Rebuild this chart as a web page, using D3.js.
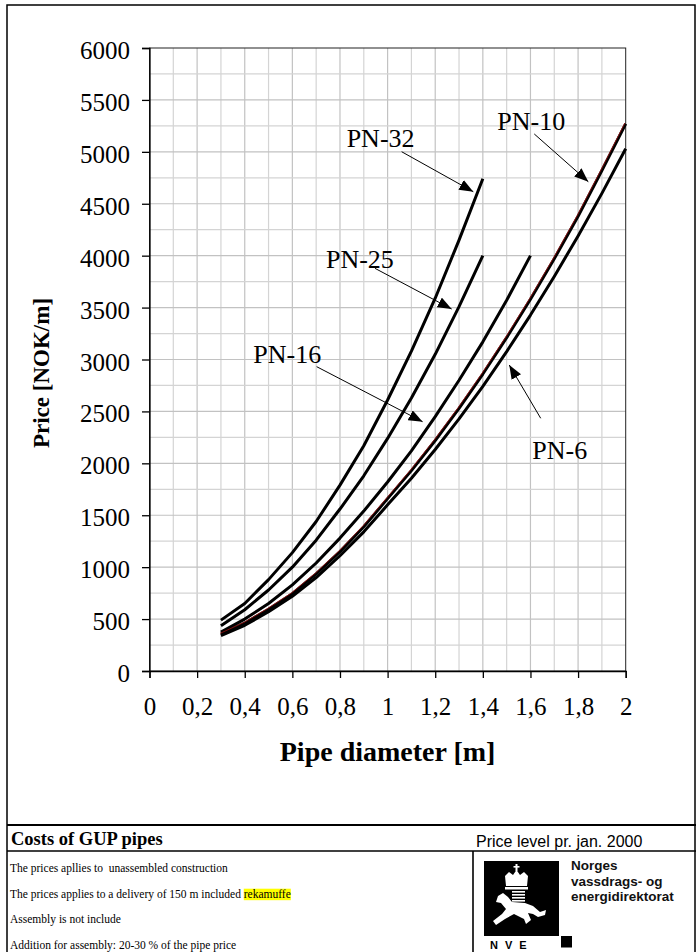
<!DOCTYPE html>
<html>
<head>
<meta charset="utf-8">
<script src="https://cdnjs.cloudflare.com/ajax/libs/d3/7.8.5/d3.min.js"></script>
<style>
  body { margin: 0; background: #fff; }
  svg { display: block; }
</style>
</head>
<body>
<div id="chart"></div>
<script>
// Pipe diameters [m] and prices [NOK/m]
const diameters = [0.3, 0.4, 0.5, 0.6, 0.7, 0.8, 0.9, 1.0, 1.1, 1.2, 1.3, 1.4, 1.5, 1.6, 1.7, 1.8, 1.9, 2.0];
const pn32 = [490, 650, 880, 1140, 1440, 1790, 2170, 2610, 3080, 3590, 4150, 4740];
const pn25 = [435, 590, 780, 1000, 1260, 1560, 1880, 2240, 2630, 3050, 3510, 4000];
const pn16 = [375, 500, 650, 830, 1040, 1280, 1540, 1820, 2120, 2450, 2800, 3170, 3570, 4000];
const pn10 = [355, 460, 595, 745, 935, 1150, 1390, 1660, 1930, 2220, 2530, 2860, 3210, 3580, 3970, 4380, 4820, 5270];
const pn6  = [340, 440, 570, 720, 900, 1110, 1340, 1600, 1856, 2133, 2428, 2742, 3076, 3428, 3800, 4190, 4600, 5030];

const xTicks = [0, 0.2, 0.4, 0.6, 0.8, 1, 1.2, 1.4, 1.6, 1.8, 2];
const yTicks = [0, 500, 1000, 1500, 2000, 2500, 3000, 3500, 4000, 4500, 5000, 5500, 6000];

const footLines = [
  "The prices apllies to  unassembled construction",
  "The prices applies to a delivery of 150 m included ",
  "Assembly is not include",
  "Addition for assembly: 20-30 % of the pipe price"
];

const series = [
  { name: "PN-32", values: pn32 },
  { name: "PN-25", values: pn25 },
  { name: "PN-16", values: pn16 },
  { name: "PN-10", values: pn10 },
  { name: "PN-6",  values: pn6 }
];

const W = 696, H = 952;
const serif = "'Liberation Serif', 'Times New Roman', serif";
const sans = "'Liberation Sans', Arial, sans-serif";

const svg = d3.select("#chart").append("svg")
    .attr("width", W)
    .attr("height", H);

svg.append("defs").append("marker")
    .attr("id", "head")
    .attr("markerUnits", "userSpaceOnUse")
    .attr("viewBox", "0 0 14 11")
    .attr("refX", 14).attr("refY", 5.5)
    .attr("markerWidth", 14).attr("markerHeight", 11)
    .attr("orient", "auto")
  .append("path")
    .attr("d", "M0,0L14,5.5L0,11Z")
    .attr("fill", "#000");

// outer frame
svg.append("rect")
    .attr("x", 7).attr("y", 5)
    .attr("width", 688).attr("height", 960)
    .attr("fill", "none").attr("stroke", "#000").attr("stroke-width", 1.5);

// scales
const x = d3.scaleLinear().domain([0, 2]).range([149.5, 625.7]);
const y = d3.scaleLinear().domain([0, 6000]).range([671, 48]);

const plot = svg.append("g");

// grid, every 0.1 m and every 250 NOK/m
plot.selectAll(".vgrid")
    .data(d3.range(1, 20).map(i => i / 10))
    .enter().append("line")
    .attr("x1", d => x(d)).attr("x2", d => x(d))
    .attr("y1", y(0)).attr("y2", y(6000))
    .attr("stroke", d => Math.round(d * 10) % 2 === 0 ? "#c2c2c2" : "#d4d4d4")
    .attr("stroke-width", 1.2);

plot.selectAll(".hgrid")
    .data(d3.range(1, 24).map(i => i * 250))
    .enter().append("line")
    .attr("x1", x(0)).attr("x2", x(2))
    .attr("y1", d => y(d)).attr("y2", d => y(d))
    .attr("stroke", d => d % 500 === 0 ? "#c2c2c2" : "#d4d4d4")
    .attr("stroke-width", 1.2);

// plot border
plot.append("rect")
    .attr("x", x(0)).attr("y", y(6000))
    .attr("width", x(2) - x(0)).attr("height", y(0) - y(6000))
    .attr("fill", "none").attr("stroke", "#222").attr("stroke-width", 1);

// axes
const yAxis = plot.append("g")
    .attr("transform", `translate(${x(0)},0)`)
    .call(d3.axisLeft(y).tickValues(yTicks).tickSize(7.5).tickPadding(12).tickFormat(d => d));
yAxis.selectAll("text")
    .attr("font-family", serif).attr("font-size", 25).attr("fill", "#000")
    .attr("dy", "0.42em");

const xAxis = plot.append("g")
    .attr("transform", `translate(0,${y(0)})`)
    .call(d3.axisBottom(x).tickValues(xTicks).tickSize(7).tickPadding(10)
      .tickFormat(d => String(d).replace(".", ",")));
xAxis.selectAll("text")
    .attr("font-family", serif).attr("font-size", 25).attr("fill", "#000")
    .attr("dy", "1.06em");

[yAxis, xAxis].forEach(a => {
  a.selectAll(".domain").attr("stroke", "#000").attr("stroke-width", 1.3);
  a.selectAll(".tick line").attr("stroke", "#000").attr("stroke-width", 1.3);
});

// axis titles
svg.append("text")
    .attr("x", (x(0) + x(2)) / 2).attr("y", 761)
    .attr("text-anchor", "middle")
    .attr("font-family", serif).attr("font-weight", "bold").attr("font-size", 28)
    .text("Pipe diameter [m]");

svg.append("text")
    .attr("transform", "translate(49,373) rotate(-90)")
    .attr("text-anchor", "middle")
    .attr("font-family", serif).attr("font-weight", "bold").attr("font-size", 23)
    .text("Price [NOK/m]");

// curves
const line = d3.line()
    .x((d, i) => x(diameters[i]))
    .y(d => y(d));

plot.selectAll(".curve")
    .data(series)
    .enter().append("path")
    .attr("d", d => line(d.values))
    .attr("fill", "none")
    .attr("stroke", "#000")
    .attr("stroke-width", 3)
    .attr("stroke-linejoin", "round");

// thin dark red trace along PN-10
plot.append("path")
    .attr("d", line(pn10))
    .attr("transform", "translate(-0.8,-0.8)")
    .attr("fill", "none")
    .attr("stroke", "#9a1010")
    .attr("stroke-width", 0.8);

// labels with arrows (positions in data units)
const notes = [
  { text: "PN-32", tx: 0.828, ty: 5050, ax: 1.059, ay: 5001, hx: 1.360, hy: 4616 },
  { text: "PN-10", tx: 1.461, ty: 5210, ax: 1.616, ay: 5172, hx: 1.843, hy: 4712 },
  { text: "PN-25", tx: 0.741, ty: 3884, ax: 0.947, ay: 3878, hx: 1.269, hy: 3486 },
  { text: "PN-16", tx: 0.436, ty: 2966, ax: 0.702, ay: 2931, hx: 1.147, hy: 2401 },
  { text: "PN-6",  tx: 1.608, ty: 2039, ax: 1.643, ay: 2434, hx: 1.511, hy: 2947 }
];

const ann = plot.selectAll(".note").data(notes).enter().append("g");
ann.append("line")
    .attr("x1", d => x(d.ax)).attr("y1", d => y(d.ay))
    .attr("x2", d => x(d.hx)).attr("y2", d => y(d.hy))
    .attr("stroke", "#000").attr("stroke-width", 1)
    .attr("marker-end", "url(#head)");
ann.append("text")
    .attr("x", d => x(d.tx)).attr("y", d => y(d.ty))
    .attr("font-family", serif).attr("font-size", 26)
    .text(d => d.text);

// footer
svg.append("line").attr("x1", 7).attr("x2", W).attr("y1", 825).attr("y2", 825)
    .attr("stroke", "#000").attr("stroke-width", 2);
svg.append("line").attr("x1", 7).attr("x2", W).attr("y1", 851).attr("y2", 851)
    .attr("stroke", "#000").attr("stroke-width", 1.6);
svg.append("line").attr("x1", 473).attr("x2", 473).attr("y1", 851).attr("y2", H)
    .attr("stroke", "#000").attr("stroke-width", 1.6);

svg.append("text")
    .attr("x", 11).attr("y", 845)
    .attr("font-family", serif).attr("font-weight", "bold").attr("font-size", 18.5)
    .text("Costs of GUP pipes");

svg.append("text")
    .attr("x", 476).attr("y", 846.5)
    .attr("font-family", sans).attr("font-size", 16)
    .text("Price level pr. jan. 2000");

const footY = [871.7, 897.7, 922.7, 949.3];
footLines.forEach((t, i) => {
  const txt = svg.append("text")
      .attr("x", 10).attr("y", footY[i])
      .attr("font-family", serif).attr("font-size", 11.5)
      .attr("xml:space", "preserve")
      .style("white-space", "pre")
      .text(t);
  if (i === 1) {
    const w = txt.node().getComputedTextLength();
    const hl = svg.insert("rect", () => txt.node())
        .attr("x", 10 + w).attr("y", footY[i] - 9)
        .attr("height", 11.5).attr("fill", "#ffff00");
    const sp = txt.append("tspan").text("rekamuffe");
    hl.attr("width", sp.node().getComputedTextLength());
  }
});

// NVE logo (simplified)
const logo = svg.append("g");
logo.append("rect").attr("x", 484).attr("y", 861).attr("width", 75).attr("height", 75).attr("fill", "#000");
logo.append("rect").attr("x", 561).attr("y", 936).attr("width", 11).attr("height", 11.5).attr("fill", "#000");
// crown
logo.append("path")
    .attr("d", "M505,876 L509,872 L513,875 L516.5,870 L520,875 L524,872 L528,876 L527,886 L506,886 Z")
    .attr("fill", "#fff");
logo.append("rect").attr("x", 515.5).attr("y", 864).attr("width", 2).attr("height", 7).attr("fill", "#fff");
logo.append("rect").attr("x", 513.5).attr("y", 866).attr("width", 6).attr("height", 1.6).attr("fill", "#fff");
logo.append("rect").attr("x", 505).attr("y", 887).attr("width", 23).attr("height", 2.5).attr("fill", "#fff");
// waves shield
[891, 894, 897, 900].forEach(v => {
  logo.append("rect").attr("x", 512).attr("y", v).attr("width", 13).attr("height", 1.6).attr("fill", "#fff");
});
// leaping horse
logo.append("path")
    .attr("d", "M498,896 L503,893 L508,897 L512,902 L525,903 L533,906 L540,912 L546,910 L545,915 L538,917 L533,914 L528,913 L531,920 L526,924 L524,919 L514,914 L505,919 L496,925 L493,921 L502,914 L506,909 L501,903 L496,902 Z")
    .attr("fill", "#fff");

logo.append("text")
    .attr("x", 490).attr("y", 949)
    .attr("font-family", sans).attr("font-weight", "bold").attr("font-size", 11)
    .attr("letter-spacing", 7)
    .text("NVE");

const org = ["Norges", "vassdrags- og", "energidirektorat"];
org.forEach((t, i) => {
  logo.append("text")
      .attr("x", 571).attr("y", 870 + i * 15.5)
      .attr("font-family", sans).attr("font-weight", "bold").attr("font-size", 13.5)
      .attr("fill", "#111")
      .text(t);
});
</script>
</body>
</html>
